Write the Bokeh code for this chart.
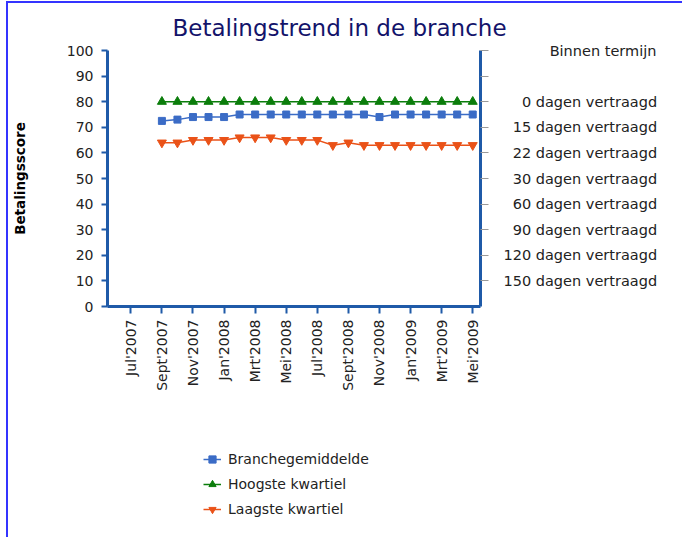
import math
from bokeh.plotting import figure
from bokeh.layouts import column
from bokeh.models import Range1d, LinearAxis, FixedTicker, Legend, LegendItem
from bokeh.embed import file_html
from bokeh.resources import INLINE

axis_months = ["Jul'2007", "Aug'2007", "Sept'2007", "Okt'2007", "Nov'2007", "Dec'2007",
               "Jan'2008", "Feb'2008", "Mrt'2008", "Apr'2008", "Mei'2008", "Jun'2008",
               "Jul'2008", "Aug'2008", "Sept'2008", "Okt'2008", "Nov'2008", "Dec'2008",
               "Jan'2009", "Feb'2009", "Mrt'2009", "Apr'2009", "Mei'2009"]
tick_months = ["Jul'2007", "Sept'2007", "Nov'2007", "Jan'2008", "Mrt'2008", "Mei'2008",
               "Jul'2008", "Sept'2008", "Nov'2008", "Jan'2009", "Mrt'2009", "Mei'2009"]
months = ["Sept'2007", "Okt'2007", "Nov'2007", "Dec'2007", "Jan'2008", "Feb'2008",
          "Mrt'2008", "Apr'2008", "Mei'2008", "Jun'2008", "Jul'2008", "Aug'2008",
          "Sept'2008", "Okt'2008", "Nov'2008", "Dec'2008", "Jan'2009", "Feb'2009",
          "Mrt'2009", "Apr'2009", "Mei'2009"]
branchegemiddelde = [72.5, 73, 74, 74, 74, 75, 75, 75, 75, 75, 75, 75, 75, 75, 74, 75, 75, 75, 75, 75, 75]
hoogste_kwartiel = [80, 80, 80, 80, 80, 80, 80, 80, 80, 80, 80, 80, 80, 80, 80, 80, 80, 80, 80, 80, 80]
laagste_kwartiel = [64, 64, 65, 65, 65, 66, 66, 66, 65, 65, 65, 63, 64, 63, 63, 63, 63, 63, 63, 63, 63]
score_ticks = [0, 10, 20, 30, 40, 50, 60, 70, 80, 90, 100]
delay_ticks = [100, 90, 80, 70, 60, 50, 40, 30, 20, 10]
delay_labels = ["Binnen termijn", "", "0 dagen vertraagd", "15 dagen vertraagd", "22 dagen vertraagd",
                "30 dagen vertraagd", "60 dagen vertraagd", "90 dagen vertraagd",
                "120 dagen vertraagd", "150 dagen vertraagd"]
series_names = ["Branchegemiddelde", "Hoogste kwartiel", "Laagste kwartiel"]

FONT = "DejaVu Sans"
AXIS_BLUE = "#1f5aa8"
TXT = "#222222"
BLUE = "#3b6cc6"
GREEN = "#0b7d0b"
ORANGE = "#ea5218"
FRAME_BLUE = "#3434ff"
series_styles = [dict(color=BLUE, marker="square", size=7),
                 dict(color=GREEN, marker="triangle", size=9),
                 dict(color=ORANGE, marker="inverted_triangle", size=9)]

FSP = "\u2007"  # figure space (same width as a digit) -> right-aligns the right-hand labels


def pad_right_label(t):
    if not t:
        return t
    if t[0].isdigit():
        n = len(t.split(" ")[0])
        return FSP * (3 - n) + t
    return FSP * 5 + t


xs = [axis_months.index(m) for m in months]
tick_pos = [axis_months.index(m) for m in tick_months]

W = 676
H = 427
p = figure(width=W, height=H, x_range=Range1d(-1.5, 22.5), y_range=Range1d(0, 100),
           output_backend="svg", toolbar_location=None,
           x_axis_location=None, y_axis_location=None,
           min_border_left=97, min_border_right=204, min_border_top=47, min_border_bottom=124,
           title="Betalingstrend in de branche")
p.outline_line_color = None
p.grid.visible = False
p.styles = {"margin-left": "6px", "margin-top": "1px",
            "border-left": "2px solid " + FRAME_BLUE, "border-top": "2px solid " + FRAME_BLUE}

p.title.text_font = FONT
p.title.text_font_size = "23px"
p.title.text_font_style = "normal"
p.title.text_color = "#13136a"
p.title.align = "left"
p.title.offset = 65
p.title.standoff = 19

ly = LinearAxis(ticker=FixedTicker(ticks=score_ticks), axis_label="Betalingsscore")
ly.axis_line_color = AXIS_BLUE
ly.axis_line_width = 3
ly.major_tick_line_color = AXIS_BLUE
ly.major_tick_line_width = 2
ly.major_tick_out = 6
ly.major_tick_in = 0
ly.minor_tick_line_color = None
ly.major_label_standoff = 8
ly.major_label_text_font = FONT
ly.major_label_text_font_size = "14px"
ly.major_label_text_color = TXT
ly.axis_label_text_font = FONT
ly.axis_label_text_font_size = "13.5px"
ly.axis_label_text_font_style = "bold"
ly.axis_label_text_color = "black"
ly.axis_label_standoff = 36
p.add_layout(ly, "left")

ry = LinearAxis(ticker=FixedTicker(ticks=delay_ticks),
                major_label_overrides={t: pad_right_label(l) for t, l in zip(delay_ticks, delay_labels)})
ry.axis_line_color = AXIS_BLUE
ry.axis_line_width = 3
ry.major_tick_line_color = "#999999"
ry.major_tick_out = 8
ry.major_tick_in = 0
ry.minor_tick_line_color = None
ry.major_label_standoff = 15
ry.major_label_text_font = FONT
ry.major_label_text_font_size = "14.5px"
ry.major_label_text_color = TXT
p.add_layout(ry, "right")

bx = LinearAxis(ticker=FixedTicker(ticks=tick_pos),
                major_label_overrides={t: l for t, l in zip(tick_pos, tick_months)})
bx.axis_line_color = AXIS_BLUE
bx.axis_line_width = 3
bx.major_tick_line_color = AXIS_BLUE
bx.major_tick_line_width = 2
bx.major_tick_out = 7
bx.major_tick_in = 0
bx.minor_tick_line_color = None
bx.major_label_orientation = math.pi / 2
bx.major_label_standoff = 6
bx.major_label_text_font = FONT
bx.major_label_text_font_size = "14px"
bx.major_label_text_color = TXT
p.add_layout(bx, "below")

series = [branchegemiddelde, hoogste_kwartiel, laagste_kwartiel]
for vals, st in zip(series, series_styles):
    p.line(xs, vals, line_color=st["color"], line_width=1.5)
    p.scatter(xs, vals, marker=st["marker"], size=st["size"],
              fill_color=st["color"], line_color=st["color"])

# legend panel below the chart (series drawn off-view, only their legend glyphs show)
lg = figure(width=W, height=109, x_range=Range1d(100, 101), y_range=Range1d(200, 201),
            output_backend="svg", toolbar_location=None,
            x_axis_location=None, y_axis_location=None,
            min_border_left=97, min_border_right=204, min_border_top=0, min_border_bottom=0)
lg.outline_line_color = None
lg.grid.visible = False
lg.styles = {"margin-left": "6px", "border-left": "2px solid " + FRAME_BLUE}
items = []
for name, vals, st in zip(series_names, series, series_styles):
    lr = lg.line(xs, vals, line_color=st["color"], line_width=1.5)
    sr = lg.scatter(xs, vals, marker=st["marker"], size=st["size"],
                    fill_color=st["color"], line_color=st["color"])
    items.append(LegendItem(label=name, renderers=[lr, sr]))
legend = Legend(items=items, location=(96, 18), orientation="vertical",
                padding=0, margin=0, spacing=5, glyph_width=18, glyph_height=20,
                label_height=20, label_standoff=7,
                label_text_font=FONT, label_text_font_size="14px", label_text_color=TXT,
                border_line_alpha=0, background_fill_alpha=0)
lg.add_layout(legend, "center")

layout = column(p, lg, spacing=0)
open("out.html", "w").write(file_html(layout, INLINE))
